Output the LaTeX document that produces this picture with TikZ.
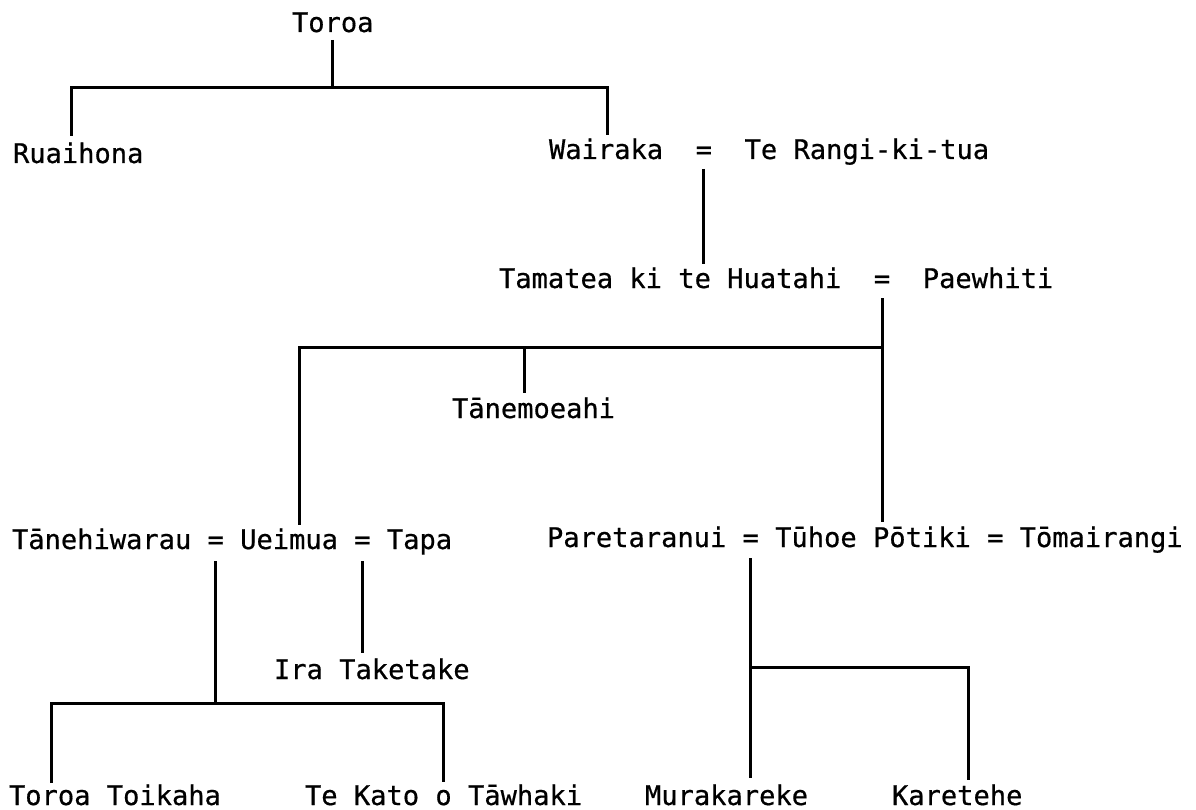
\documentclass[tikz,border=0pt]{standalone}
\usepackage{fontspec}
\setmainfont[FakeBold=0.6]{DejaVu Sans Mono}
\usetikzlibrary{calc}
\begin{document}
\begin{tikzpicture}[x=1pt,y=-1pt,
  pname/.style={anchor=base west,inner sep=0pt,outer sep=0pt,text height=20pt,text depth=6pt,
    font=\fontsize{27.08}{30}\selectfont},
  link/.style={line width=3pt,line join=miter}]
\def\cw{16.3}
\useasboundingbox (0,0) rectangle (1196,810);
% row 0
\node[pname] (toroa) at (292,32) {Toroa};
% row 1
\node[pname] (ruai) at (13,163) {Ruaihona};
\node[pname] (wair) at (549,159) {Wairaka};
\node[pname] (eqA) at ({549+9*\cw},159) {=};
\node[pname] (rangi) at ({549+12*\cw},159) {Te Rangi-ki-tua};
% row 2
\node[pname] (tama) at (499,288) {Tamatea ki te Huatahi};
\node[pname] (eqB) at ({499+23*\cw},288) {=};
\node[pname] (paew) at ({499+26*\cw},288) {Paewhiti};
% row 3
\node[pname] (tanem) at (452,418) {Tānemoeahi};
% row 4
\node[pname] (tanehi) at (12,549) {Tānehiwarau};
\node[pname] (eqC) at ({12+12*\cw},549) {=};
\node[pname] (ueim) at ({12+14*\cw},549) {Ueimua};
\node[pname] (eqD) at ({12+21*\cw},549) {=};
\node[pname] (tapa) at ({12+23*\cw},549) {Tapa};
\node[pname] (pare) at (547,547) {Paretaranui};
\node[pname] (eqE) at ({547+12*\cw},547) {=};
\node[pname] (tuhoe) at ({547+14*\cw},547) {Tūhoe Pōtiki};
\node[pname] (eqF) at ({547+27*\cw},547) {=};
\node[pname] (toma) at ({547+29*\cw},547) {Tōmairangi};
% row 5
\node[pname] (ira) at (274,679) {Ira Taketake};
% row 6
\node[pname] (tt) at (9,805) {Toroa Toikaha};
\node[pname] (tk) at (305,805) {Te Kato o Tāwhaki};
\node[pname] (mura) at (645,805) {Murakareke};
\node[pname] (kare) at (892,805) {Karetehe};
% junction coordinates
\coordinate (t1) at (332,88);
\coordinate (a1) at (71,88);
\coordinate (a2) at (607,88);
\coordinate (b1) at (299,347);
\coordinate (b2) at (524,347);
\coordinate (c2) at (51,703);
\coordinate (c3) at (443,703);
\coordinate (d1) at (968,667);
% connectors
\draw[link,shorten <=2pt] (toroa.south) -- (toroa.south |- t1);
\draw[link,shorten <=7pt,shorten >=4pt] (ruai.north -| a1) -- (a1) -- (a2) -- (wair.north -| a2);
\draw[link,shorten <=4pt,shorten >=4pt] (eqA.south) -- (eqA.south |- tama.north);
\draw[link,shorten <=4pt,shorten >=5pt] (eqB.south) -- (eqB.south |- tuhoe.north);
\draw[link,shorten >=4pt] (eqB.south |- b1) -- (b1) -- (b1 |- ueim.north);
\draw[link,shorten >=5pt] (b2) -- (b2 |- tanem.north);
\draw[link,shorten <=6pt] (eqC.south) -- (eqC.south |- c2);
\draw[link,shorten <=2pt,shorten >=3pt] (tt.north -| c2) -- (c2) -- (c3) -- (tk.north -| c3);
\draw[link,shorten <=6pt,shorten >=6pt] (eqD.south) -- (eqD.south |- ira.north);
\draw[link,shorten <=5pt,shorten >=7pt] (eqE.south) -- (eqE.south |- mura.north);
\draw[link,shorten >=5pt] (eqE.south |- d1) -- (d1) -- (d1 |- kare.north);
\end{tikzpicture}
\end{document}
